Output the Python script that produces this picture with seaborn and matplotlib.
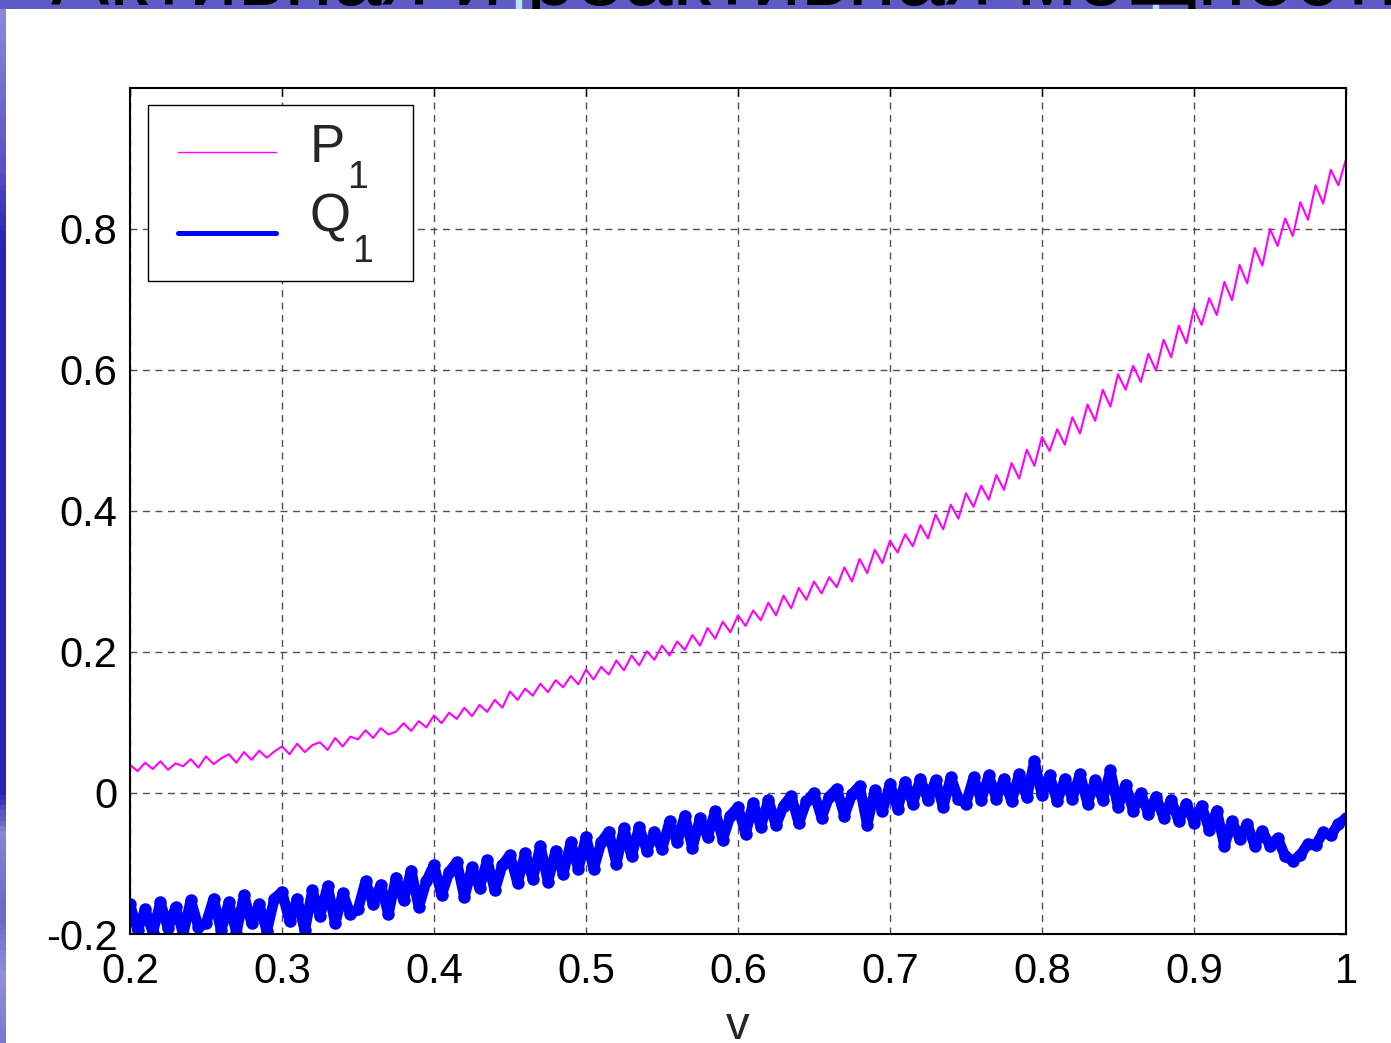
import numpy as np
import pandas as pd
import matplotlib
matplotlib.use("Agg")
import matplotlib.pyplot as plt
import seaborn as sns
from matplotlib.lines import Line2D
from matplotlib.patches import Rectangle
from matplotlib.colors import LinearSegmentedColormap

# --- Données (v de 0.2 à 1, pas de 0.005) ---
v_debut, v_fin, v_pas = 0.2, 1.0, 0.005

p1 = [
    0.040, 0.031, 0.043, 0.034, 0.045, 0.033, 0.042, 0.038, 0.048, 0.036,
    0.052, 0.041, 0.049, 0.055, 0.043, 0.058, 0.047, 0.060, 0.050, 0.059,
    0.066, 0.055, 0.070, 0.058, 0.068, 0.072, 0.061, 0.078, 0.066, 0.080,
    0.076, 0.089, 0.078, 0.092, 0.083, 0.087, 0.099, 0.088, 0.102, 0.093,
    0.110, 0.099, 0.114, 0.105, 0.121, 0.109, 0.125, 0.115, 0.132, 0.121,
    0.144, 0.132, 0.148, 0.138, 0.155, 0.143, 0.160, 0.150, 0.166, 0.154,
    0.175, 0.161, 0.179, 0.168, 0.188, 0.174, 0.195, 0.181, 0.201, 0.189,
    0.209, 0.195, 0.215, 0.203, 0.224, 0.209, 0.234, 0.219, 0.243, 0.228,
    0.252, 0.237, 0.259, 0.245, 0.270, 0.252, 0.280, 0.262, 0.291, 0.274,
    0.300, 0.283, 0.306, 0.292, 0.320, 0.300, 0.332, 0.312, 0.345, 0.326,
    0.358, 0.341, 0.367, 0.350, 0.380, 0.361, 0.395, 0.374, 0.409, 0.389,
    0.425, 0.406, 0.436, 0.416, 0.451, 0.430, 0.468, 0.446, 0.487, 0.464,
    0.505, 0.485, 0.516, 0.494, 0.533, 0.510, 0.551, 0.528, 0.572, 0.548,
    0.594, 0.572, 0.606, 0.583, 0.623, 0.599, 0.643, 0.618, 0.663, 0.638,
    0.688, 0.664, 0.702, 0.678, 0.725, 0.699, 0.749, 0.723, 0.773, 0.748,
    0.800, 0.776, 0.815, 0.790, 0.838, 0.813, 0.862, 0.836, 0.884, 0.862,
    0.899,
]

q1 = [
    -0.158, -0.195, -0.165, -0.198, -0.155, -0.192, -0.162, -0.200, -0.152, -0.190,
    -0.185, -0.150, -0.195, -0.155, -0.198, -0.145, -0.185, -0.158, -0.196, -0.150,
    -0.140, -0.182, -0.150, -0.195, -0.138, -0.175, -0.132, -0.185, -0.142, -0.172,
    -0.165, -0.125, -0.158, -0.130, -0.172, -0.120, -0.152, -0.110, -0.162, -0.125,
    -0.102, -0.145, -0.112, -0.098, -0.148, -0.105, -0.135, -0.095, -0.138, -0.102,
    -0.088, -0.128, -0.085, -0.122, -0.075, -0.126, -0.082, -0.115, -0.070, -0.108,
    -0.062, -0.108, -0.070, -0.055, -0.100, -0.050, -0.090, -0.048, -0.082, -0.055,
    -0.080, -0.040, -0.070, -0.032, -0.078, -0.036, -0.062, -0.026, -0.066, -0.032,
    -0.020, -0.058, -0.014, -0.048, -0.010, -0.046, -0.018, -0.004, -0.043, -0.012,
    0.000, -0.035, -0.005, 0.006, -0.032, -0.002, 0.010, -0.045, 0.004, -0.026,
    0.013, -0.022, 0.016, -0.015, 0.020, -0.010, 0.018, -0.020, 0.022, -0.008,
    -0.015, 0.022, -0.010, 0.025, -0.008, 0.020, -0.012, 0.027, -0.006, 0.045,
    -0.003, 0.025, -0.012, 0.020, -0.008, 0.027, -0.015, 0.018, -0.010, 0.032,
    -0.020, 0.012, -0.025, 0.000, -0.030, -0.005, -0.035, -0.010, -0.040, -0.015,
    -0.042, -0.018, -0.052, -0.025, -0.075, -0.040, -0.065, -0.044, -0.075, -0.054,
    -0.075, -0.064, -0.090, -0.096, -0.088, -0.072, -0.074, -0.056, -0.060, -0.044,
    -0.036,
]

x_ticks = [0.2, 0.3, 0.4, 0.5, 0.6, 0.7, 0.8, 0.9, 1.0]
x_labels = ["0.2", "0.3", "0.4", "0.5", "0.6", "0.7", "0.8", "0.9", "1"]
y_ticks = [-0.2, 0.0, 0.2, 0.4, 0.6, 0.8]
y_labels = ["-0.2", "0", "0.2", "0.4", "0.6", "0.8"]
titre = "Активная и реактивная мощности"

v = np.round(np.arange(v_debut, v_fin + v_pas / 2, v_pas), 3)
df = pd.DataFrame({"v": v, "P1": p1, "Q1": q1})

# --- Style ---
sns.set_theme(style="white")
plt.rcParams["font.family"] = ["Liberation Sans", "DejaVu Sans"]
plt.rcParams["axes.unicode_minus"] = False

W, H = 1391, 1043
fig = plt.figure(figsize=(W / 100, H / 100), dpi=100)
fig.patch.set_facecolor("white")

# bandeau du titre (coupé en haut, comme sur la diapo)
hb = 9
ax_band = fig.add_axes([0, 1 - hb / H, 1, hb / H])
ax_band.set_facecolor("#5f5bc4")
ax_band.set_xlim(0, W)
ax_band.set_ylim(0, hb)
ax_band.set_xticks([])
ax_band.set_yticks([])
for s in ax_band.spines.values():
    s.set_visible(False)
ax_band.axvspan(516, 521, color="#b4e4f4")
ax_band.axvspan(1153, 1158, color="#b4e4f4")
ax_band.text(51, 4, titre, fontsize=63, color="black", va="baseline",
             ha="left", clip_on=True)

# bande gauche en dégradé
ax_strip = fig.add_axes([0, 0, 6 / W, 1 - hb / H])
cmap = LinearSegmentedColormap.from_list(
    "bande",
    [(0.0, "#8c88d8"), (0.15, "#5a52c4"), (0.22, "#2c24b2"), (0.76, "#2a22b0"),
     (0.80, "#8a84d2"), (0.88, "#6c66c6"), (0.94, "#9490d8"), (1.0, "#7c76cc")])
ax_strip.imshow(np.linspace(0, 1, 200).reshape(-1, 1), aspect="auto", cmap=cmap)
ax_strip.axis("off")

# --- Graphique principal ---
ax = fig.add_axes([130 / W, 1 - 934 / H, 1216 / W, 846 / H])
ax.set_facecolor("white")

sns.lineplot(data=df, x="v", y="P1", ax=ax, color="#ff00ff", lw=1.5,
             sort=False, estimator=None, legend=False)
sns.lineplot(data=df, x="v", y="Q1", ax=ax, color="#0000ff", lw=7.5,
             marker="o", markersize=9, markeredgewidth=0,
             solid_joinstyle="round", solid_capstyle="round",
             sort=False, estimator=None, legend=False)

ax.set_xlim(0.2, 1.0)
ax.set_ylim(-0.2, 1.0)
ax.set_xticks(x_ticks)
ax.set_xticklabels(x_labels)
ax.set_yticks(y_ticks)
ax.set_yticklabels(y_labels)
ax.tick_params(direction="in", length=6, width=1, top=True, right=True,
               labelsize=30, colors="black")
ax.tick_params(axis="x", pad=13)
ax.tick_params(axis="y", pad=9)
ax.grid(True, color="#505050", lw=1.0, linestyle=(0, (5, 4)))
for s in ax.spines.values():
    s.set_visible(True)
    s.set_color("black")
    s.set_linewidth(1.5)

ax.set_xlabel("v", fontsize=34, labelpad=9)
ax.set_ylabel("")


# --- Légende façon MATLAB (indices décalés vers le bas) ---
def px(x, y):
    return ((x - 130) / 1216, (934 - y) / 846)


bx0, by0 = px(148, 281)
bx1, by1 = px(413, 105)
ax.add_patch(Rectangle((bx0, by0), bx1 - bx0, by1 - by0, transform=ax.transAxes,
                       facecolor="white", edgecolor="black", lw=1.0, zorder=5))
legende = [("P", "#ff00ff", 1.0, 152, 162, 347, 188),
           ("Q", "#0000ff", 3.6, 233, 232, 352, 262)]
for nom, coul, lw, yl, yb, xs, ys in legende:
    xa, ya = px(178, yl)
    xb, _ = px(276, yl)
    ax.add_line(Line2D([xa, xb], [ya, ya], color=coul, lw=lw,
                       transform=ax.transAxes, zorder=6))
    xt, yt = px(310, yb)
    ax.text(xt, yt, nom, fontsize=38, transform=ax.transAxes, va="baseline",
            ha="left", zorder=6)
    xt, yt = px(xs, ys)
    ax.text(xt, yt, "1", fontsize=27, transform=ax.transAxes, va="baseline",
            ha="left", zorder=6)

fig.savefig("out.png", dpi=100, facecolor=fig.get_facecolor())
